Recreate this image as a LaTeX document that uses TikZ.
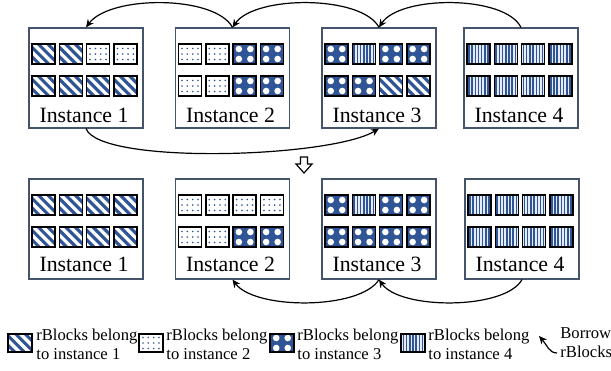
\documentclass[tikz,border=0pt]{standalone}
\usepackage{fontspec}
\setmainfont{Liberation Serif}
\usetikzlibrary{arrows.meta}
\definecolor{blueA}{HTML}{2F5597}
\definecolor{lightbl}{HTML}{E6ECF7}
\definecolor{frame}{HTML}{44546A}
\tikzset{
  blk/.style={draw=black,line width=0.7pt},
  instbox/.style={draw=frame,line width=0.6pt,fill=white,minimum width=57pt,minimum height=50pt,inner sep=0pt},
  instlbl/.style={inner sep=0pt,font=\fontsize{10.9}{13}\selectfont},
  legtxt/.style={anchor=north west,inner sep=0pt,align=left,font=\fontsize{8.3}{9.5}\selectfont},
  arr/.style={draw=black,line width=0.6pt,-{Stealth[length=4pt,width=3.6pt]}},
}
\def\blkhw{11.5}
\def\blkhh{10}
\newcommand\blkS{%
  \begin{scope}
    \clip (-\blkhw,-\blkhh) rectangle (\blkhw,\blkhh);
    \fill[blueA] (-\blkhw,-\blkhh) rectangle (\blkhw,\blkhh);
    \foreach \k in {-4,...,4} \draw[white,line width=1.6pt] (\k*9.5-14,-14) -- (\k*9.5+14,14);
  \end{scope}
  \draw[blk] (-\blkhw,-\blkhh) rectangle (\blkhw,\blkhh);}
\newcommand\blkD{%
  \fill[white] (-\blkhw,-\blkhh) rectangle (\blkhw,\blkhh);
  \foreach \xx in {-8,-2.7,2.7,8} \foreach \yy in {-5.5,0,5.5} \fill[blueA] (\xx,\yy) circle (0.45pt);
  \draw[blk] (-\blkhw,-\blkhh) rectangle (\blkhw,\blkhh);}
\newcommand\blkX{%
  \begin{scope}
    \clip (-\blkhw,-\blkhh) rectangle (\blkhw,\blkhh);
    \fill[blueA] (-\blkhw,-\blkhh) rectangle (\blkhw,\blkhh);
    \foreach \xx in {-5.75,5.75} \foreach \yy in {-5,5} \fill[white] (\xx,\yy) circle (1.65pt);
  \end{scope}
  \draw[blk] (-\blkhw,-\blkhh) rectangle (\blkhw,\blkhh);}
\newcommand\blkV{%
  \fill[lightbl] (-\blkhw,-\blkhh) rectangle (\blkhw,\blkhh);
  \foreach \k in {-3,...,3} \draw[blueA,line width=0.75pt] (\k*3.2,-\blkhh) -- (\k*3.2,\blkhh);
  \draw[blk] (-\blkhw,-\blkhh) rectangle (\blkhw,\blkhh);}
\newcommand\putblk[3]{\begin{scope}[shift={(#1,#2)}]\csname blk#3\endcsname\end{scope}}
\newcommand\brow[3]{\foreach \ty [count=\ii] in {#3}{\putblk{#1+\ii*27.3-69.8}{#2}{\ty}}}
\begin{document}
\begin{tikzpicture}[x=0.5pt,y=-0.5pt]
\useasboundingbox (0,0) rectangle (611,370);
% top row
\node[instbox] (t1) at (86,78) {};
\node[instbox] (t2) at (232.5,78) {};
\node[instbox] (t3) at (379,78) {};
\node[instbox] (t4) at (521,78) {};
\brow{86}{54}{S,S,D,D}
\brow{86}{86}{S,S,S,S}
\brow{232.5}{54}{D,D,X,X}
\brow{232.5}{86}{D,D,X,X}
\brow{379}{54}{X,V,X,X}
\brow{379}{86}{X,X,S,S}
\brow{521}{54}{V,V,V,V}
\brow{521}{86}{V,V,V,V}
\node[instlbl] (t1l) at (84,115) {Instance 1};
\node[instlbl] (t2l) at (230.5,115) {Instance 2};
\node[instlbl] (t3l) at (377,115) {Instance 3};
\node[instlbl] (t4l) at (519,115) {Instance 4};
% bottom row
\node[instbox] (b1) at (86,229) {};
\node[instbox] (b2) at (232.5,229) {};
\node[instbox] (b3) at (379,229) {};
\node[instbox] (b4) at (522,229) {};
\brow{86}{205}{S,S,S,S}
\brow{86}{237}{S,S,S,S}
\brow{232.5}{205}{D,D,D,D}
\brow{232.5}{237}{D,D,X,X}
\brow{379}{205}{X,V,X,X}
\brow{379}{237}{X,X,X,X}
\brow{522}{205}{V,V,V,V}
\brow{522}{237}{V,V,V,V}
\node[instlbl] (b1l) at (84,264) {Instance 1};
\node[instlbl] (b2l) at (230.5,264) {Instance 2};
\node[instlbl] (b3l) at (377,264) {Instance 3};
\node[instlbl] (b4l) at (520,264) {Instance 4};
% connectors
\draw[arr] (t2.north) .. controls (215,-5) and (110,-5) .. (t1.north);
\draw[arr] (t3.north) .. controls (362,-5) and (255,-5) .. (t2.north);
\draw[arr] (t4.north) .. controls (505,-5) and (400,-5) .. (t3.north);
\draw[arr] (t1.south) .. controls (100,165) and (330,158) .. (t3.south);
\draw[arr] (b3.south) .. controls (360,310) and (255,310) .. (b2.south);
\draw[arr] (b4.south) .. controls (505,310) and (400,310) .. (b3.south);
% hollow down arrow
\draw[line width=0.6pt,fill=white] (300.5,157) -- (307.5,157) -- (307.5,164) -- (312,164) -- (304,173) -- (296,164) -- (300.5,164) -- cycle;
% legend
\begin{scope}
\def\blkhw{12}\def\blkhh{9}
\putblk{20}{343}{S}
\putblk{151}{343}{D}
\putblk{282}{343}{X}
\putblk{413}{343}{V}
\end{scope}
\node[legtxt] (l1) at (36,329) {rBlocks belong\\to instance 1};
\node[legtxt] (l2) at (166,329) {rBlocks belong\\to instance 2};
\node[legtxt] (l3) at (297,329) {rBlocks belong\\to instance 3};
\node[legtxt] (l4) at (428,329) {rBlocks belong\\to instance 4};
\node[legtxt] (l5) at (560,327) {Borrow\\rBlocks};
\coordinate (bwS) at (557,353);
\coordinate (bwE) at (539,336);
\draw[arr] (bwS) .. controls (549,353) and (547,345) .. (bwE);
\end{tikzpicture}
\end{document}
